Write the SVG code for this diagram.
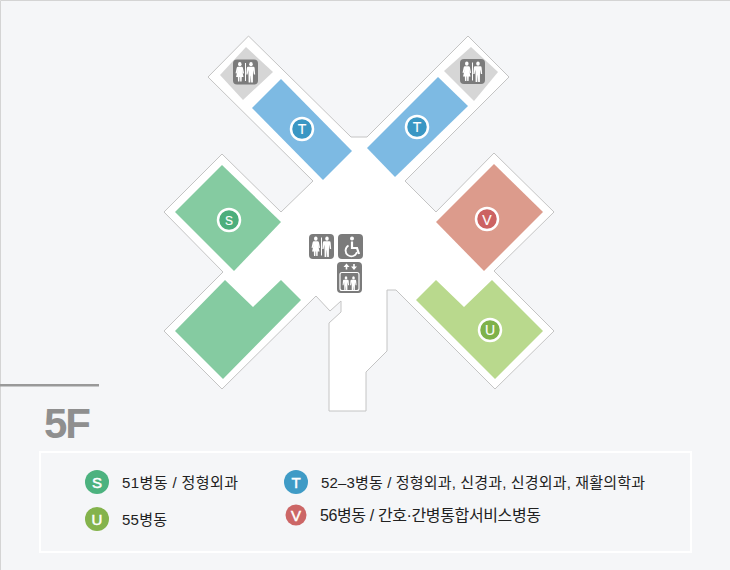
<svg xmlns="http://www.w3.org/2000/svg" xmlns:xlink="http://www.w3.org/1999/xlink" width="730" height="570" viewBox="0 0 730 570">
<style>
.blue{fill:#7dbae3}.green{fill:#85cba1}.red{fill:#dc9b8c}.lime{fill:#b9d98d}.gray{fill:#d6d6d6}
.ring{stroke:#fff;stroke-width:2.5}
.ct{font-family:"Liberation Sans",sans-serif;font-size:14px;fill:#fff;stroke:#fff;stroke-width:.15;text-anchor:middle}
.lt{font-family:"Liberation Sans",sans-serif;font-size:15px;fill:#fff;stroke:#fff;stroke-width:.5;text-anchor:middle}
.tx{font-family:"Liberation Sans","Noto Sans CJK KR",sans-serif;font-size:15px;fill:#222}
.ico{fill:#7b7b7b}.w{fill:#fff}
</style>
<defs>
<g id="man"><circle cx="0" cy="-7.800" r="2.100"/><path d="M-2.800-5.200h5.600q1.400 0 1.500 1.400l.6 6.200h-1.500l-1-4.400-.2 12.400h-2l-.4-6.600h-.2l-.4 6.600h-2l-.2-12.400-1 4.400h-1.500l.6-6.200q.1-1.400 1.500-1.400z"/></g>
<g id="woman"><circle cx="0" cy="-7.800" r="2.100"/><path d="M-2.200-5.200h4.400q1.200 0 1.500 1.200l1.300 5.200-1.300.4-1.300-4 2 7.400H2.300l-.2 4.600H.5l-.2-4.600h-.6l-.2 4.600h-1.600l-.2-4.600h-2.100l2-7.400-1.300 4-1.300-.4 1.300-5.200q.3-1.200 1.500-1.200z"/></g>
<g id="wc"><rect class="ico" width="25" height="25" rx="4"/><g class="w"><use xlink:href="#woman" transform="translate(6.800 12.500) scale(.85 1)"/><use xlink:href="#man" transform="translate(18 12.500) scale(.85 1)"/><rect x="12" y="3.500" width="1" height="18"/></g></g>
</defs>
<rect id="bg" width="730" height="570" fill="#f5f6f8"/>
<path d="M.5 570V.5H730" fill="none" stroke="#d4d4d4"/>
<g id="floor"><polygon points="248.500,36 208,77 313,181 281,212 222,154 164,212 223,272 164,331 222,389 316,296 330,311 341,301 341,312 329,323 329,411 366,411 366,372 387,351 387,290 396,290 495,389 554,331 494,271 554,212 494,153 436,212 405,181 509,77 468,36 367,137 351,137" fill="#fff" stroke="#c4c4c4"/></g>
<g id="room-t-left"><polygon class="blue" points="281,79 352,151 323,180 252,108"/><circle class="ring" fill="#3a97c4" cx="302" cy="129" r="11"/><text class="ct" x="302" y="134">T</text></g>
<g id="room-t-right"><polygon class="blue" points="438,77 468,106 395,177 367,148"/><circle class="ring" fill="#3a97c4" cx="417" cy="127" r="11"/><text class="ct" x="417" y="132">T</text></g>
<g id="wc-left"><polygon class="gray" points="246,47 273,72 243,100 220,75"/><use xlink:href="#wc" x="233" y="59.500"/></g>
<g id="wc-right"><polygon class="gray" points="471,47 498,72 474,101 444,71"/><use xlink:href="#wc" x="460" y="59"/></g>
<g id="room-s"><polygon class="green" points="222,165 281,222 234,271 175,212"/><circle class="ring" fill="#4cae7c" cx="229" cy="220" r="11"/><text class="ct" x="229" y="224.500" style="font-size:12px">S</text></g>
<g id="room-s2"><polygon class="green" points="225,280 253,307 281,280 301,300 223,379 175,331"/></g>
<g id="room-v"><polygon class="red" points="494,164 543,212 484,271 436,222"/><circle class="ring" fill="#cc6262" cx="487" cy="219" r="11"/><text class="ct" x="487" y="225">V</text></g>
<g id="room-u"><polygon class="lime" points="436,280 464,307 492,280 543,331 495,379 416,300"/><circle class="ring" fill="#7fb24a" cx="490" cy="330" r="11"/><text class="ct" x="490" y="335">U</text></g>
<g id="center-wc"><use xlink:href="#wc" x="309" y="234"/></g>
<g id="center-wheelchair"><rect class="ico" x="338" y="234" width="25" height="25" rx="4"/><circle class="w" cx="352" cy="238.500" r="2"/><path d="M352 241.500v6.500h5l2 6" fill="none" stroke="#fff" stroke-width="2.200"/><path d="M348.500 245.500a5.800 5.800 0 1 0 8.500 6.500" fill="none" stroke="#fff" stroke-width="1.800"/></g>
<g id="center-elevator"><rect class="ico" x="337" y="262" width="25" height="31" rx="4"/><rect x="340" y="272.500" width="19" height="18" rx="2" fill="none" stroke="#fff" stroke-width="1.200"/><path d="M346.500 263.500l-3 3.500h2.200v2.500h1.600V267h2.200zM354 270l-3-3.500h2.200V264h1.600v2.500h2.200z" class="w"/><g class="w"><use xlink:href="#man" transform="translate(346 283.500) scale(.62 .72)"/><use xlink:href="#man" transform="translate(353.500 283.500) scale(.62 .72)"/></g></g>
<g id="floor-label"><rect x="0" y="384" width="99" height="2.500" fill="#999"/><text x="44" y="437.500" style="font-family:'Liberation Sans',sans-serif;font-size:42px;font-weight:bold;fill:#8f8f8f;letter-spacing:-2px">5F</text></g>
<g id="legend"><rect x="40" y="452" width="651" height="100" fill="none" stroke="#fff" stroke-width="2"/>
<circle fill="#4cb27f" cx="97" cy="482" r="12"/><text class="lt" x="97" y="487.500">S</text>
<text class="tx" x="122" y="488" textLength="116">51병동 / 정형외과</text>
<circle fill="#84b34c" cx="97" cy="519" r="12"/><text class="lt" x="97" y="524.500">U</text>
<text class="tx" x="122" y="525" textLength="45">55병동</text>
<circle fill="#3f9bc6" cx="296" cy="482" r="12"/><text class="lt" x="296" y="487.500">T</text>
<text class="tx" x="321" y="488" textLength="324">52–3병동 / 정형외과, 신경과, 신경외과, 재활의학과</text>
<circle fill="#cc6666" cx="296" cy="515" r="10.500"/><text class="lt" x="296" y="520.500">V</text>
<text class="tx" x="320" y="521" textLength="221" style="font-size:16px">56병동 / 간호·간병통합서비스병동</text></g>
</svg>
